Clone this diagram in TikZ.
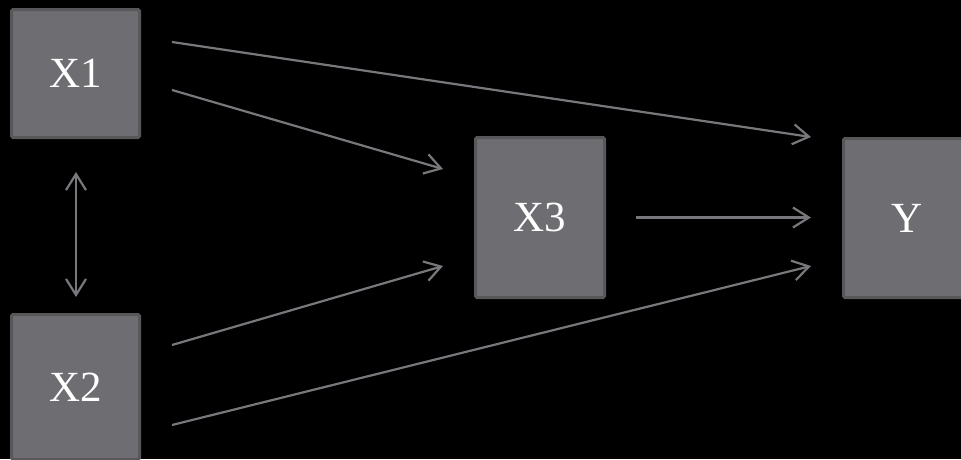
\documentclass[tikz,border=0pt]{standalone}
\usepackage{fontspec}
\setmainfont{Liberation Serif}
\usetikzlibrary{arrows.meta}
\definecolor{boxfill}{HTML}{6E6D71}
\definecolor{boxline}{HTML}{58585B}
\definecolor{arrcol}{HTML}{78777C}
\tikzset{
  varbox/.style={draw=boxline, fill=boxfill, line width=3pt, rounded corners=1.5pt, inner sep=0pt,
    text=white, font=\fontsize{43}{50}\selectfont},
  barb/.tip={Straight Barb[length=16pt,width=20pt,line width=2.2pt]},
  link/.style={draw=arrcol, line width=2.2pt, -barb},
  dlink/.style={draw=arrcol, line width=2.2pt, barb-barb}
}
\begin{document}
\begin{tikzpicture}[x=1pt,y=-1pt]
\fill[black] (0,0) rectangle (961,459);
\useasboundingbox (0,0) rectangle (961,459);
\begin{scope}
\clip (0,0) rectangle (961,459);
\node[varbox, minimum width=128pt, minimum height=128pt] (x1) at (75.5,73.5) {X1};
\node[varbox, minimum width=128pt, minimum height=145pt] (x2) at (75.5,387) {X2};
\node[varbox, minimum width=129pt, minimum height=160pt] (x3) at (540,217.5) {X3};
\node[varbox, minimum width=128pt, minimum height=159pt] (y) at (907.5,218) {Y};
\end{scope}
\coordinate (a1s) at (172,42);  \coordinate (a1e) at (811,137);
\coordinate (a2s) at (172,90);  \coordinate (a2e) at (443,169);
\coordinate (a3s) at (172,345); \coordinate (a3e) at (443,266);
\coordinate (a4s) at (172,425); \coordinate (a4e) at (811,266);
\coordinate (a5s) at (636,217.5); \coordinate (a5e) at (811,217.5);
\coordinate (d1) at (76,172); \coordinate (d2) at (76,297);
\draw[link] (a1s) -- (a1e);
\draw[link] (a2s) -- (a2e);
\draw[link] (a3s) -- (a3e);
\draw[link] (a4s) -- (a4e);
\draw[link] (a5s) -- (a5e);
\draw[dlink] (d1) -- (d2);
\end{tikzpicture}
\end{document}
